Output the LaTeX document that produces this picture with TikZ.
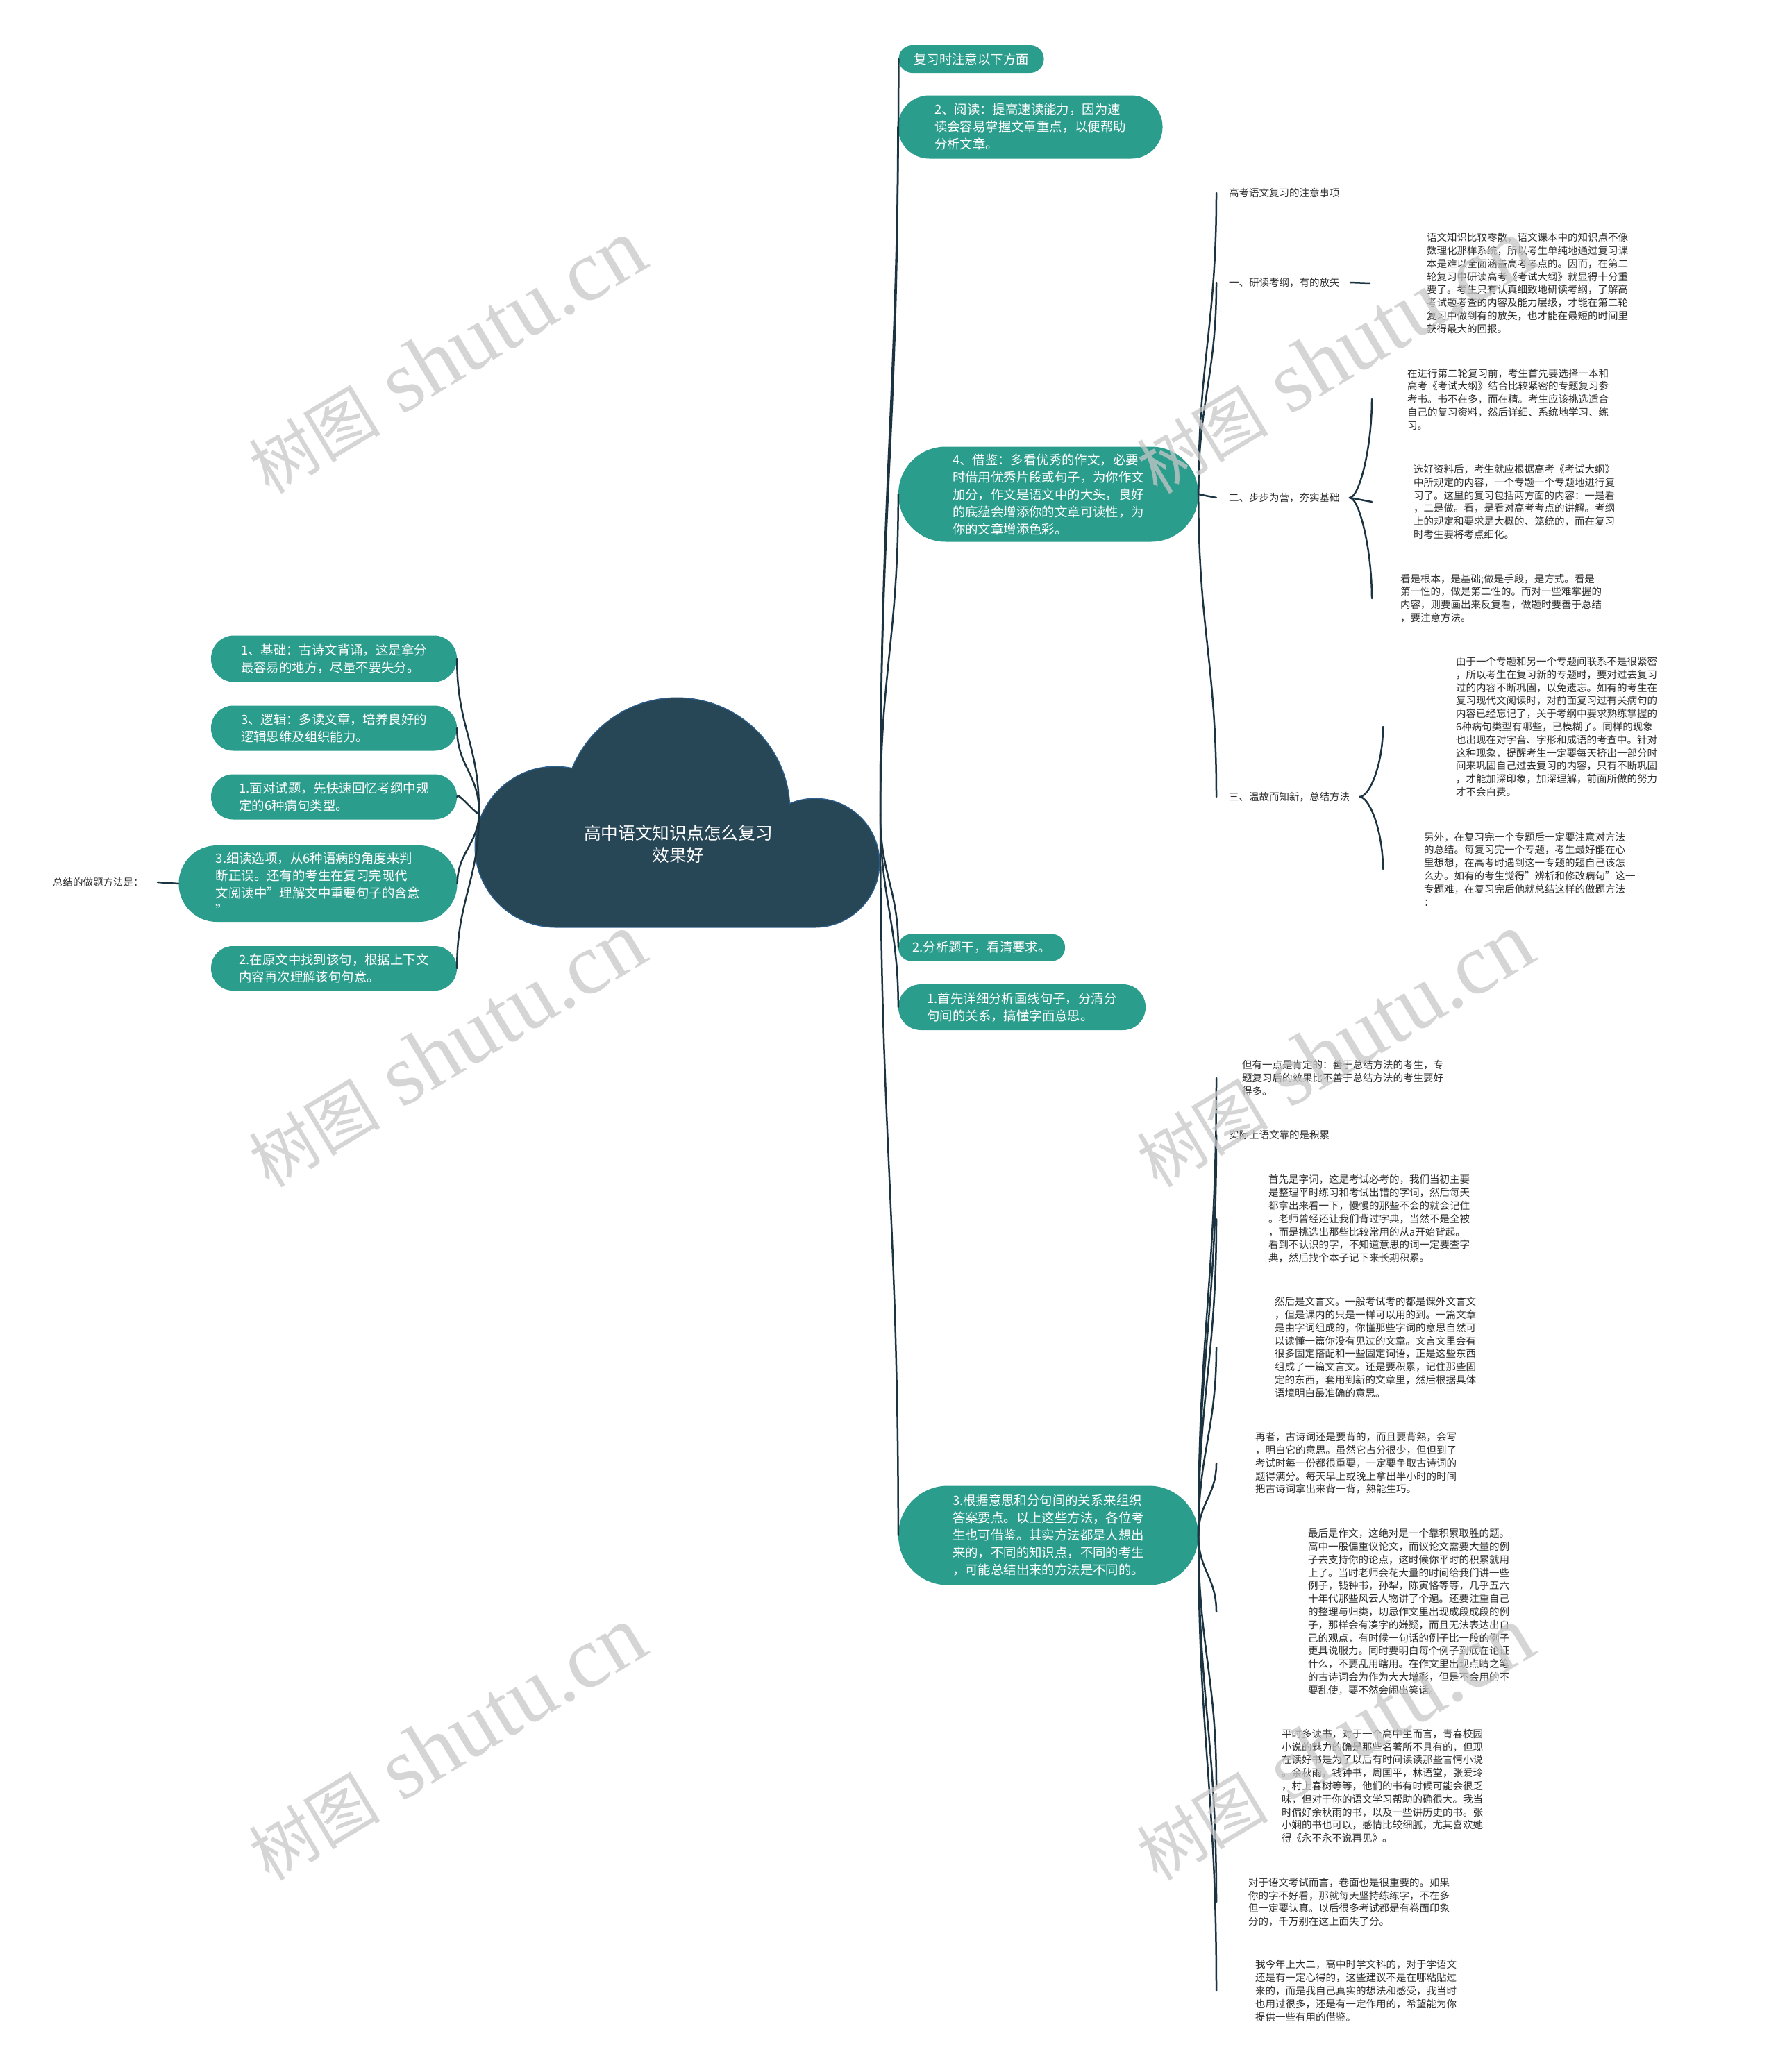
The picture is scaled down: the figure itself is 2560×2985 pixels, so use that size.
\documentclass[tikz,border=0pt]{standalone}
\usepackage{fontspec}
\setmainfont{Noto Sans CJK SC}
\newfontfamily\wmlat{Liberation Serif}
\definecolor{gfill}{RGB}{42,157,140}
\definecolor{cloudc}{RGB}{39,71,87}
\definecolor{cloudb}{RGB}{45,95,140}
\definecolor{linec}{RGB}{28,52,66}
\definecolor{txtc}{RGB}{45,45,45}
\tikzset{
  gnode/.style 2 args={fill=gfill, text=white, font=\fontsize{18.4}{25}\selectfont, align=left, inner sep=0pt, minimum width=#1, minimum height=#2, rounded corners=#2/2-0.5},
  tnode/.style={anchor=west, inner sep=0pt, align=left, text=txtc, font=\fontsize{14.5}{18.8}\selectfont},
  conn/.style={draw=linec, line width=2.5pt, line cap=round},
  wm/.style={rotate=31, text=black!22, opacity=0.75, inner sep=0pt}
}
\newcommand{\uplink}[3]{\draw[conn] (#1) .. controls ([yshift=#3pt]#1) and ([yshift=-#3pt]#2) .. (#2);}
\newcommand{\downlink}[3]{\draw[conn] (#1) .. controls ([yshift=-#3pt]#1) and ([yshift=#3pt]#2) .. (#2);}
\newcommand{\cloudshapes}{%
  (800,1220) circle[radius=115]
  (975,1168) circle[radius=162]
  (1174,1243) circle[radius=92]
  (800,1168) rectangle (1174,1335)}
\begin{document}
\begin{tikzpicture}[x=1pt,y=-1pt]
\fill[white] (0,0) rectangle (2560,2985);
\useasboundingbox (0,0) rectangle (2560,2985);

% ---------- cloud ----------
\draw[cloudb, line width=3pt] \cloudshapes;
\fill[cloudc] (800,1220) circle[radius=115];
\fill[cloudc] (975,1168) circle[radius=162];
\fill[cloudc] (1174,1243) circle[radius=92];
\fill[cloudc] (800,1168) rectangle (1174,1335);
\node[align=center, text=white, font=\fontsize{24.7}{32}\selectfont, minimum width=578, inner sep=0pt] (root) at (977,1216) {高中语文知识点怎么复习\\效果好};
\coordinate (cR) at (1268,1174);
\coordinate (cL) at (690,1170);

% ---------- right green nodes ----------
\node[gnode={209}{40}] (R1) at (1399,85) {复习时注意以下方面};
\node[gnode={381}{91}] (R2) at (1484,183) {2、阅读：提高速读能力，因为速\\读会容易掌握文章重点，以便帮助\\分析文章。};
\node[gnode={432}{137}] (R3) at (1510,712) {4、借鉴：多看优秀的作文，必要\\时借用优秀片段或句子，为你作文\\加分，作文是语文中的大头，良好\\的底蕴会增添你的文章可读性，为\\你的文章增添色彩。};
\node[gnode={240}{39}] (R4) at (1414,1365) {2.分析题干，看清要求。};
\node[gnode={356}{66}] (R5) at (1472,1451) {1.首先详细分析画线句子，分清分\\句间的关系，搞懂字面意思。};
\node[gnode={432}{143}] (R6) at (1510,2212) {3.根据意思和分句间的关系来组织\\答案要点。以上这些方法，各位考\\生也可借鉴。其实方法都是人想出\\来的，不同的知识点，不同的考生\\，可能总结出来的方法是不同的。};

% ---------- left green nodes ----------
\node[gnode={354}{67}] (L1) at (481,949) {1、基础：古诗文背诵，这是拿分\\最容易的地方，尽量不要失分。};
\node[gnode={354}{65}] (L2) at (481,1049) {3、逻辑：多读文章，培养良好的\\逻辑思维及组织能力。};
\node[gnode={354}{65}] (L3) at (481,1148) {1.面对试题，先快速回忆考纲中规\\定的6种病句类型。};
\node[gnode={401}{110}] (L4) at (458,1273) {3.细读选项，从6种语病的角度来判\\断正误。还有的考生在复习完现代\\文阅读中"理解文中重要句子的含意\\"};
\node[gnode={354}{64}] (L5) at (481,1395) {2.在原文中找到该句，根据上下文\\内容再次理解该句句意。};
\node[tnode] (L0) at (76,1271) {总结的做题方法是：};

% ---------- upper right texts ----------
\node[tnode] (T1) at (1770,278) {高考语文复习的注意事项};
\node[tnode] (T2) at (1770,407) {一、研读考纲，有的放矢};
\node[tnode] (T2a) at (2055,408) {语文知识比较零散，语文课本中的知识点不像\\数理化那样系统，所以考生单纯地通过复习课\\本是难以全面涵盖高考考点的。因而，在第二\\轮复习中研读高考《考试大纲》就显得十分重\\要了。考生只有认真细致地研读考纲，了解高\\考试题考查的内容及能力层级，才能在第二轮\\复习中做到有的放矢，也才能在最短的时间里\\获得最大的回报。};
\node[tnode] (T3) at (1770,717) {二、步步为营，夯实基础};
\node[tnode] (T3a) at (2027,575) {在进行第二轮复习前，考生首先要选择一本和\\高考《考试大纲》结合比较紧密的专题复习参\\考书。书不在多，而在精。考生应该挑选适合\\自己的复习资料，然后详细、系统地学习、练\\习。};
\node[tnode] (T3b) at (2036,723) {选好资料后，考生就应根据高考《考试大纲》\\中所规定的内容，一个专题一个专题地进行复\\习了。这里的复习包括两方面的内容：一是看\\，二是做。看，是看对高考考点的讲解。考纲\\上的规定和要求是大概的、笼统的，而在复习\\时考生要将考点细化。};
\node[tnode] (T3c) at (2017,862) {看是根本，是基础;做是手段，是方式。看是\\第一性的，做是第二性的。而对一些难掌握的\\内容，则要画出来反复看，做题时要善于总结\\，要注意方法。};
\node[tnode] (T4) at (1770,1148) {三、温故而知新，总结方法};
\node[tnode] (T4a) at (2097,1047) {由于一个专题和另一个专题间联系不是很紧密\\，所以考生在复习新的专题时，要对过去复习\\过的内容不断巩固，以免遗忘。如有的考生在\\复习现代文阅读时，对前面复习过有关病句的\\内容已经忘记了，关于考纲中要求熟练掌握的\\6种病句类型有哪些，已模糊了。同样的现象\\也出现在对字音、字形和成语的考查中。针对\\这种现象，提醒考生一定要每天挤出一部分时\\间来巩固自己过去复习的内容，只有不断巩固\\，才能加深印象，加深理解，前面所做的努力\\才不会白费。};
\node[tnode] (T4b) at (2051,1252) {另外，在复习完一个专题后一定要注意对方法\\的总结。每复习完一个专题，考生最好能在心\\里想想，在高考时遇到这一专题的题自己该怎\\么办。如有的考生觉得"辨析和修改病句"这一\\专题难，在复习完后他就总结这样的做题方法\\：};

% ---------- lower right texts ----------
\node[tnode] (U1) at (1789,1553) {但有一点是肯定的：善于总结方法的考生，专\\题复习后的效果比不善于总结方法的考生要好\\得多。};
\node[tnode] (U2) at (1770,1635) {实际上语文靠的是积累};
\node[tnode] (U3) at (1827,1756) {首先是字词，这是考试必考的，我们当初主要\\是整理平时练习和考试出错的字词，然后每天\\都拿出来看一下，慢慢的那些不会的就会记住\\。老师曾经还让我们背过字典，当然不是全被\\，而是挑选出那些比较常用的从a开始背起。\\看到不认识的字，不知道意思的词一定要查字\\典，然后找个本子记下来长期积累。};
\node[tnode] (U4) at (1836,1941) {然后是文言文。一般考试考的都是课外文言文\\，但是课内的只是一样可以用的到。一篇文章\\是由字词组成的，你懂那些字词的意思自然可\\以读懂一篇你没有见过的文章。文言文里会有\\很多固定搭配和一些固定词语，正是这些东西\\组成了一篇文言文。还是要积累，记住那些固\\定的东西，套用到新的文章里，然后根据具体\\语境明白最准确的意思。};
\node[tnode] (U5) at (1808,2108) {再者，古诗词还是要背的，而且要背熟，会写\\，明白它的意思。虽然它占分很少，但但到了\\考试时每一份都很重要，一定要争取古诗词的\\题得满分。每天早上或晚上拿出半小时的时间\\把古诗词拿出来背一背，熟能生巧。};
\node[tnode] (U6) at (1884,2322) {最后是作文，这绝对是一个靠积累取胜的题。\\高中一般偏重议论文，而议论文需要大量的例\\子去支持你的论点，这时候你平时的积累就用\\上了。当时老师会花大量的时间给我们讲一些\\例子，钱钟书，孙犁，陈寅恪等等，几乎五六\\十年代那些风云人物讲了个遍。还要注重自己\\的整理与归类，切忌作文里出现成段成段的例\\子，那样会有凑字的嫌疑，而且无法表达出自\\己的观点，有时候一句话的例子比一段的例子\\更具说服力。同时要明白每个例子到底在论证\\什么，不要乱用瞎用。在作文里出现点睛之笔\\的古诗词会为作为大大增彩，但是不会用的不\\要乱使，要不然会闹出笑话。};
\node[tnode] (U7) at (1846,2573) {平时多读书，对于一个高中生而言，青春校园\\小说的魅力的确是那些名著所不具有的，但现\\在读好书是为了以后有时间读读那些言情小说\\。余秋雨，钱钟书，周国平，林语堂，张爱玲\\，村上春树等等，他们的书有时候可能会很乏\\味，但对于你的语文学习帮助的确很大。我当\\时偏好余秋雨的书，以及一些讲历史的书。张\\小娴的书也可以，感情比较细腻，尤其喜欢她\\得《永不永不说再见》。};
\node[tnode] (U8) at (1798,2740) {对于语文考试而言，卷面也是很重要的。如果\\你的字不好看，那就每天坚持练练字，不在多\\但一定要认真。以后很多考试都是有卷面印象\\分的，千万别在这上面失了分。};
\node[tnode] (U9) at (1808,2868) {我今年上大二，高中时学文科的，对于学语文\\还是有一定心得的，这些建议不是在哪粘贴过\\来的，而是我自己真实的想法和感受，我当时\\也用过很多，还是有一定作用的，希望能为你\\提供一些有用的借鉴。};

% ---------- connector end points ----------
\coordinate (xR) at (1752,0);
\coordinate (xD) at (1973,0);
\coordinate (xB2) at (1976,0);
\coordinate (xB3) at (1992,0);
\foreach \n in {T1,T2,T3,T4,U1,U2,U3,U4,U5,U6,U7,U8,U9}{
  \coordinate (e\n) at (\n.west -| xR);
}
\coordinate (eT2a) at (T2a.west -| xD);
\coordinate (eT3a) at (T3a.west -| xB2);
\coordinate (eT3b) at (T3b.west -| xB2);
\coordinate (eT3c) at (T3c.west -| xB2);
\coordinate (eT4a) at (T4a.west -| xB3);
\coordinate (eT4b) at (T4b.west -| xB3);
\coordinate (tip3) at ([xshift=14pt]T3.east);
\coordinate (tip4) at ([xshift=14pt]T4.east);
\coordinate (sT2) at ([xshift=15pt]T2.east);
\coordinate (sL0) at ([xshift=20pt]L0.east);

% ---------- connectors: cloud right ----------
\uplink{cR}{R1.west}{490}
\uplink{cR}{R2.west}{450}
\uplink{cR}{R3.west}{210}
\downlink{cR}{R4.west}{85}
\downlink{cR}{R5.west}{120}
\downlink{cR}{R6.west}{460}
% cloud left
\uplink{cL}{L1.east}{100}
\uplink{cL}{L2.east}{55}
\downlink{cL}{L3.east}{10}
\downlink{cL}{L4.east}{45}
\downlink{cL}{L5.east}{100}
\draw[conn] (sL0) -- (L4.west);

% R3 fan
\uplink{R3.east}{eT1}{195}
\uplink{R3.east}{eT2}{137}
\draw[conn] (R3.east) -- (eT3);
\downlink{R3.east}{eT4}{196}
\draw[conn] (sT2) -- (eT2a);
% brace 二
\draw[conn] (tip3) .. controls ([xshift=14pt]tip3) and ([yshift=-70pt]eT3a) .. (eT3a);
\draw[conn] (tip3) -- (eT3b);
\draw[conn] (tip3) .. controls ([xshift=14pt]tip3) and ([yshift=70pt]eT3c) .. (eT3c);
% brace 三
\draw[conn] (tip4) .. controls ([xshift=14pt]tip4) and ([yshift=-55pt]eT4a) .. (eT4a);
\draw[conn] (tip4) .. controls ([xshift=14pt]tip4) and ([yshift=55pt]eT4b) .. (eT4b);

% R6 fan
\uplink{R6.east}{eU1}{296}
\uplink{R6.east}{eU2}{260}
\uplink{R6.east}{eU3}{205}
\uplink{R6.east}{eU4}{122}
\uplink{R6.east}{eU5}{47}
\downlink{R6.east}{eU6}{50}
\downlink{R6.east}{eU7}{162}
\downlink{R6.east}{eU8}{238}
\downlink{R6.east}{eU9}{295}

% ---------- watermarks ----------
\foreach \wx/\wy [count=\i] in {643/514, 643/1513, 643/2512, 1922/514, 1922/1513, 1922/2512}{
  \node[wm] (wm\i) at (\wx,\wy) {{\fontsize{95}{95}\selectfont 树图}\hspace{32pt}{\wmlat\fontsize{125}{125}\selectfont shutu.cn}};
}
\end{tikzpicture}
\end{document}
